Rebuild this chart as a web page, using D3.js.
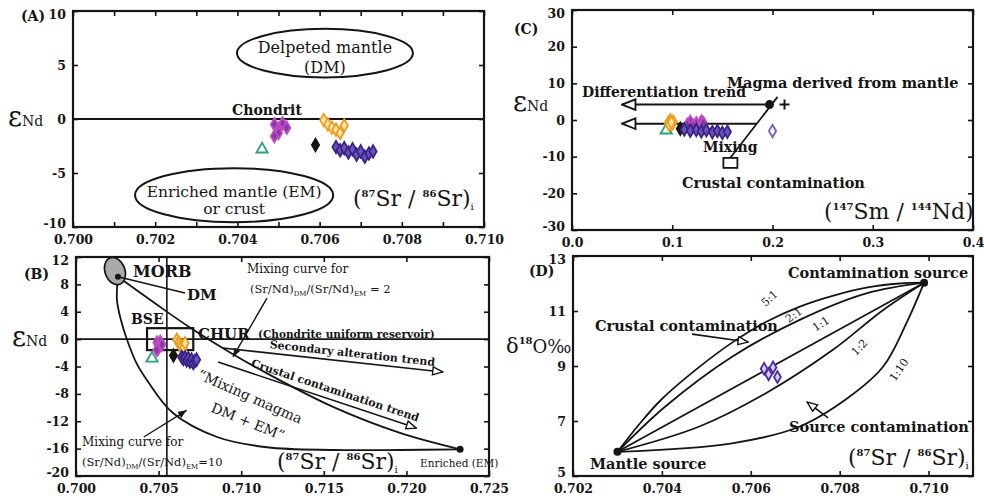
<!DOCTYPE html>
<html>
<head>
<meta charset="utf-8">
<script src="https://cdn.jsdelivr.net/npm/d3@7"></script>
<style>
  body { margin: 0; background: #fff; }
  svg { font-family: "DejaVu Serif", serif; }
</style>
</head>
<body>
<svg width="984" height="500"></svg>
<script>
// samples: [87Sr/86Sr(i), eNd, 147Sm/144Nd]
const greenSamples = [[0.7046, -2.8, 0.094]];
const orangeSamples = [
	[0.7061, -0.1, 0.098], [0.7062, -0.5, 0.101], [0.7063, -0.8, 0.096],
	[0.7064, -1.0, 0.100], [0.7065, -1.3, 0.097], [0.7066, -0.6, 0.099]
];
const magentaSamples = [
	[0.7049, -0.5, 0.118], [0.7050, -0.9, 0.124], [0.7051, -0.4, 0.129],
	[0.7050, -1.3, 0.115], [0.7052, -0.8, 0.131], [0.7049, -1.6, 0.121]
];
const blackSamples = [[0.7059, -2.4, 0.108]];
const purpleSamples = [
	[0.7064, -2.6, 0.112], [0.7065, -2.9, 0.118], [0.7066, -2.7, 0.124],
	[0.7067, -3.1, 0.129], [0.7068, -2.8, 0.134], [0.7069, -3.3, 0.140],
	[0.7070, -3.0, 0.145], [0.7071, -3.5, 0.150], [0.7072, -3.2, 0.155],
	[0.7073, -3.0, 0.200]
];
// panel D samples: [87Sr/86Sr(i), d18O]
const oxygenSamples = [[0.7063, 8.9], [0.7064, 8.7], [0.7065, 8.95], [0.7066, 8.6]];

// tick values
const aXTicks = [0.700, 0.701, 0.702, 0.703, 0.704, 0.705, 0.706, 0.707, 0.708, 0.709, 0.710];
const aYTicks = [-10, -5, 0, 5, 10];
const bXTicks = [0.700, 0.705, 0.710, 0.715, 0.720, 0.725];
const bYTicks = [-20, -16, -12, -8, -4, 0, 4, 8, 12];
const cXTicks = [0.0, 0.1, 0.2, 0.3, 0.4];
const cYTicks = [-30, -20, -10, 0, 10, 20, 30];
const dXTicks = [0.702, 0.704, 0.706, 0.708, 0.710];
const dYTicks = [5, 7, 9, 11, 13];

// panel B mixing curves
const dmPoint = [0.70254, 9.1];
const emPoint = [0.72325, -16.1];
const mixCurve2 = [
	[0.70254, 9.1], [0.70480, 5.2], [0.70708, 1.4], [0.70950, -2.2], [0.71156, -5.0],
	[0.71556, -9.9], [0.71961, -13.7], [0.72325, -16.1]
];
const mixCurve10 = [
	[0.70254, 9.1], [0.70248, 5.7], [0.70272, 2.8], [0.70309, -0.1], [0.70363, -3.35],
	[0.70430, -6.0], [0.70587, -10.8], [0.70854, -14.3], [0.71156, -15.8],
	[0.71556, -16.2], [0.71961, -16.2], [0.72325, -16.1]
];

// panel D mixing curves
const mantleSource = [0.7030, 5.88];
const contamSource = [0.7099, 12.03];
const curve5to1 = [
	[0.7030, 5.88], [0.7035, 6.9], [0.7040, 7.8], [0.70483, 8.95], [0.70558, 9.85],
	[0.70634, 10.6], [0.70709, 11.15], [0.70784, 11.55], [0.70860, 11.85], [0.70935, 12.0], [0.7099, 12.03]
];
const curve2to1 = [
	[0.7030, 5.88], [0.70407, 7.52], [0.70558, 9.34], [0.70709, 10.67], [0.70860, 11.64], [0.7099, 12.03]
];
const curve1to1 = [[0.7030, 5.88], [0.7099, 12.03]];
const curve1to2 = [
	[0.7030, 5.88], [0.70483, 6.79], [0.70634, 8.01], [0.70784, 9.58], [0.70898, 11.04], [0.7099, 12.03]
];
const curve1to10 = [
	[0.7030, 5.88], [0.70558, 6.19], [0.70709, 6.79], [0.70822, 7.88], [0.70898, 8.98],
	[0.70950, 10.55], [0.7099, 12.03]
];

const svg = d3.select('svg');
svg.append('rect').attr('width', 984).attr('height', 500).attr('fill', '#fff');

const ink = '#151515';

//arrow heads
const defs = svg.append('defs');
function openHead(id, w, h) {
	defs.append('marker').attr('id', id)
		.attr('viewBox', '0 0 12 10').attr('refX', 11).attr('refY', 5)
		.attr('markerWidth', w).attr('markerHeight', h)
		.attr('markerUnits', 'userSpaceOnUse').attr('orient', 'auto')
		.append('path').attr('d', 'M1,1L11,5L1,9Z')
		.attr('fill', '#fff').attr('stroke', ink).attr('stroke-width', 1.4);
}
openHead('open', 12, 10);
openHead('openBig', 16, 14);
defs.append('marker').attr('id', 'solid')
	.attr('viewBox', '0 0 10 8').attr('refX', 10).attr('refY', 4)
	.attr('markerWidth', 9).attr('markerHeight', 7)
	.attr('markerUnits', 'userSpaceOnUse').attr('orient', 'auto')
	.append('path').attr('d', 'M0,0L10,4L0,8Z').attr('fill', ink);

// box with inward ticks on all four sides
function frame(g, x, y, o) {
	const [x0, x1] = x.range();
	const [yb, yt] = y.range();
	const [ymin, ymax] = y.domain();
	g.append('g').attr('transform', `translate(0,${yb})`)
		.call(d3.axisBottom(x).tickValues(o.xTicks).tickSize(-5).tickPadding(8).tickFormat(o.xFmt));
	g.append('g').attr('transform', `translate(0,${yt})`)
		.call(d3.axisTop(x).tickValues(o.xTicks).tickSize(-5).tickFormat(''));
	const left = g.append('g').attr('transform', `translate(${x0},0)`)
		.call(d3.axisLeft(y).tickValues(o.yTicks).tickSize(-5).tickPadding(7).tickFormat(d => String(d)));
	g.append('g').attr('transform', `translate(${x1},0)`)
		.call(d3.axisRight(y).tickValues(o.yTicks).tickSize(-5).tickFormat(''));
	g.selectAll('.domain').remove();
	g.selectAll('.tick line').attr('stroke', ink).attr('stroke-width', 1.6);
	g.selectAll('.tick text')
		.attr('font-family', 'DejaVu Serif').attr('font-size', 12.5)
		.attr('font-weight', 'bold').attr('fill', ink);
	// end labels sit a little inside the corners
	left.selectAll('.tick text').attr('y', d => d === ymin ? -4 : d === ymax ? 3 : 0);
	g.append('rect')
		.attr('x', x0).attr('y', yt).attr('width', x1 - x0).attr('height', yb - yt)
		.attr('fill', 'none').attr('stroke', ink).attr('stroke-width', 2.2);
}

function label(g, px, py, txt, size, o = {}) {
	const t = g.append('text').attr('x', px).attr('y', py)
		.attr('font-size', size).attr('fill', ink)
		.attr('font-weight', o.bold ? 'bold' : 'normal')
		.attr('text-anchor', o.anchor || 'start')
		.text(txt);
	if (o.rotate) t.attr('transform', `rotate(${o.rotate},${px},${py})`);
	return t;
}

function epsNd(g, px, py) {
	const t = g.append('text').attr('x', px).attr('y', py).attr('fill', ink);
	t.append('tspan').attr('font-size', 27).text('ε');
	t.append('tspan').attr('font-size', 14).text('Nd');
}

function srLabel(g, px, py) {
	const t = g.append('text').attr('x', px).attr('y', py).attr('fill', ink).attr('font-size', 22);
	t.append('tspan').text('(');
	t.append('tspan').attr('font-size', 10).attr('font-weight', 'bold').attr('dy', -9).text('87');
	t.append('tspan').attr('dy', 9).text('Sr / ');
	t.append('tspan').attr('font-size', 10).attr('font-weight', 'bold').attr('dy', -9).text('86');
	t.append('tspan').attr('dy', 9).text('Sr)');
	t.append('tspan').attr('font-size', 10).attr('dy', 4).text('i');
}

const groups = [
	{ data: greenSamples, type: d3.symbolTriangle, stroke: '#2ea07e', fill: '#fff', size: 55 },
	{ data: orangeSamples, type: d3.symbolDiamond, stroke: '#ef9d1c', fill: '#fde6b0', size: 45 },
	{ data: magentaSamples, type: d3.symbolDiamond, stroke: '#c04cc4', fill: '#8a36a6', size: 45 },
	{ data: blackSamples, type: d3.symbolDiamond, stroke: ink, fill: ink, size: 45 },
	{ data: purpleSamples, type: d3.symbolDiamond, stroke: '#3a2386', fill: '#6b52b8', size: 45 }
];

function plotSamples(g, x, y, xi) {
	groups.forEach(grp => {
		g.selectAll(null).data(grp.data).enter().append('path')
			.attr('d', d3.symbol().type(grp.type).size(grp.size))
			.attr('transform', d => `translate(${x(d[xi])},${y(d[1])})`)
			.attr('fill', d => (xi === 2 && d[2] > 0.18) ? '#fff' : grp.fill)
			.attr('stroke', d => (xi === 2 && d[2] > 0.18) ? '#7a5cc8' : grp.stroke)
			.attr('stroke-width', 1.8);
	});
}

function arrow(g, x, y, from, to, marker, w = 1.6) {
	g.append('line')
		.attr('x1', x(from[0])).attr('y1', y(from[1]))
		.attr('x2', x(to[0])).attr('y2', y(to[1]))
		.attr('stroke', ink).attr('stroke-width', w)
		.attr('marker-end', marker ? `url(#${marker})` : null);
}

// ---------- panel A ----------
{
	const x = d3.scaleLinear().domain([0.700, 0.710]).range([73, 484]);
	const y = d3.scaleLinear().domain([-10, 10]).range([227, 11]);
	const g = svg.append('g');
	frame(g, x, y, {
		xTicks: aXTicks, yTicks: aYTicks,
		xFmt: d => (Math.round(d * 1000) % 2 === 0 ? d.toFixed(3) : '')
	});
	g.append('line').attr('x1', x(0.700)).attr('x2', x(0.710))
		.attr('y1', y(0)).attr('y2', y(0)).attr('stroke', ink).attr('stroke-width', 2);

	g.append('ellipse').attr('cx', x(0.70613)).attr('cy', y(6.1))
		.attr('rx', x(0.70214) - x(0.700)).attr('ry', y(0) - y(2.25))
		.attr('fill', 'none').attr('stroke', ink).attr('stroke-width', 2);
	label(g, x(0.70613), 53, 'Delpeted mantle', 16, { anchor: 'middle' });
	label(g, x(0.70613), 73, '(DM)', 16, { anchor: 'middle' });

	g.append('ellipse').attr('cx', x(0.70392)).attr('cy', y(-7.05))
		.attr('rx', x(0.70241) - x(0.700)).attr('ry', y(0) - y(2.5))
		.attr('fill', 'none').attr('stroke', ink).attr('stroke-width', 2);
	label(g, x(0.70392), 197, 'Enriched mantle (EM)', 15.5, { anchor: 'middle' });
	label(g, x(0.70392), 214, 'or crust', 15.5, { anchor: 'middle' });

	label(g, 267, 115, 'Chondrit', 14, { anchor: 'middle', bold: true });
	plotSamples(g, x, y, 0);
	srLabel(g, 353, 206);
	label(g, 21, 21, '(A)', 14, { bold: true });
	epsNd(g, 8, 126);
}

// ---------- panel B ----------
{
	const x = d3.scaleLinear().domain([0.700, 0.725]).range([76, 489]);
	const y = d3.scaleLinear().domain([-20, 12]).range([476, 257]);
	const g = svg.append('g');
	frame(g, x, y, { xTicks: bXTicks, yTicks: bYTicks, xFmt: d => d.toFixed(3) });
	g.append('line').attr('x1', x(0.700)).attr('x2', x(0.725))
		.attr('y1', y(0)).attr('y2', y(0)).attr('stroke', ink).attr('stroke-width', 1.6);
	g.append('line').attr('x1', x(0.7055)).attr('x2', x(0.7055))
		.attr('y1', y(12)).attr('y2', y(-20)).attr('stroke', ink).attr('stroke-width', 1.6);

	const line = d3.line().x(d => x(d[0])).y(d => y(d[1])).curve(d3.curveCatmullRom.alpha(0.5));
	[mixCurve2, mixCurve10].forEach(c => g.append('path').attr('d', line(c))
		.attr('fill', 'none').attr('stroke', ink).attr('stroke-width', 1.8));

	// MORB field
	g.append('ellipse').attr('cx', x(0.70236)).attr('cy', y(9.95))
		.attr('rx', 10).attr('ry', 14)
		.attr('transform', `rotate(-20,${x(0.70236)},${y(9.95)})`)
		.attr('fill', '#a9a9a9').attr('stroke', ink).attr('stroke-width', 1.6);
	g.append('circle').attr('cx', x(dmPoint[0])).attr('cy', y(dmPoint[1])).attr('r', 3).attr('fill', ink);
	g.append('line').attr('x1', x(dmPoint[0])).attr('y1', y(dmPoint[1]))
		.attr('x2', 185).attr('y2', 293).attr('stroke', ink).attr('stroke-width', 1.6);
	g.append('circle').attr('cx', x(emPoint[0])).attr('cy', y(emPoint[1])).attr('r', 3.5).attr('fill', ink);

	// BSE box
	g.append('rect').attr('x', x(0.7043)).attr('y', y(1.6))
		.attr('width', x(0.7071) - x(0.7043)).attr('height', y(-1.6) - y(1.6))
		.attr('fill', 'none').attr('stroke', ink).attr('stroke-width', 2.2);

	plotSamples(g, x, y, 0);

	arrow(g, x, y, [0.7089, -1.3], [0.7222, -4.8], 'open');
	arrow(g, x, y, [0.7086, -3.35], [0.7206, -13.0], 'open');
	arrow(g, x, y, [0.71156, 6.0], [0.7095, -2.6], 'solid', 1.4);
	arrow(g, x, y, [0.7041, -14.3], [0.7067, -10.4], 'solid', 1.4);

	label(g, 133, 277, 'MORB', 16, { bold: true });
	label(g, 187, 300, 'DM', 15, { bold: true });
	label(g, 131, 324, 'BSE', 14, { bold: true });
	label(g, 198, 339, 'CHUR', 15, { bold: true });
	label(g, 258, 338, '(Chondrite uniform reservoir)', 10.5, { bold: true });

	label(g, 247, 273, 'Mixing curve for', 12);
	const t2 = g.append('text').attr('x', 250).attr('y', 293).attr('font-size', 11.5).attr('fill', ink);
	t2.append('tspan').text('(Sr/Nd)');
	t2.append('tspan').attr('font-size', 7).attr('dy', 3).text('DM');
	t2.append('tspan').attr('dy', -3).text('/(Sr/Nd)');
	t2.append('tspan').attr('font-size', 7).attr('dy', 3).text('EM');
	t2.append('tspan').attr('dy', -3).text(' = 2');

	label(g, 82, 446, 'Mixing curve for', 12);
	const t10 = g.append('text').attr('x', 82).attr('y', 466).attr('font-size', 11.5).attr('fill', ink);
	t10.append('tspan').text('(Sr/Nd)');
	t10.append('tspan').attr('font-size', 7).attr('dy', 3).text('DM');
	t10.append('tspan').attr('dy', -3).text('/(Sr/Nd)');
	t10.append('tspan').attr('font-size', 7).attr('dy', 3).text('EM');
	t10.append('tspan').attr('dy', -3).text('=10');

	label(g, 352, 357, 'Secondary alteration trend', 11, { bold: true, anchor: 'middle', rotate: 6.2 });
	label(g, 334, 394, 'Crustal contamination trend', 11, { bold: true, anchor: 'middle', rotate: 18.3 });
	label(g, 248, 401, '\u201cMixing magma', 14, { anchor: 'middle', rotate: 24 });
	label(g, 246, 426, 'DM + EM\u201d', 14, { anchor: 'middle', rotate: 22 });

	srLabel(g, 277, 469);
	label(g, 420, 467, 'Enriched (EM)', 10.5);
	label(g, 24, 279, '(B)', 14, { bold: true });
	epsNd(g, 12, 346);
}

// ---------- panel C ----------
{
	const x = d3.scaleLinear().domain([0, 0.4]).range([572, 973]);
	const y = d3.scaleLinear().domain([-30, 30]).range([230, 10]);
	const g = svg.append('g');
	frame(g, x, y, { xTicks: cXTicks, yTicks: cYTicks, xFmt: d => d.toFixed(1) });

	arrow(g, x, y, [0.158, -10.3], [0.205, 6.3], null, 1.8);
	arrow(g, x, y, [0.193, 4.2], [0.05, 4.2], 'openBig', 2);
	arrow(g, x, y, [0.184, -1.0], [0.05, -1.0], 'openBig', 2);

	plotSamples(g, x, y, 2);

	g.append('circle').attr('cx', x(0.197)).attr('cy', y(4.2)).attr('r', 4.5).attr('fill', ink);
	g.append('path')
		.attr('d', `M${x(0.212) - 5},${y(4.2)}h10M${x(0.212)},${y(4.2) - 5}v10`)
		.attr('stroke', ink).attr('stroke-width', 2);
	g.append('rect').attr('x', x(0.158) - 7).attr('y', y(-11.7) - 5)
		.attr('width', 14).attr('height', 10)
		.attr('fill', '#fff').attr('stroke', ink).attr('stroke-width', 1.8);

	label(g, 727, 88, 'Magma derived from mantle', 14.5, { bold: true });
	label(g, 582, 97, 'Differentiation trend', 14, { bold: true });
	label(g, 703, 152, 'Mixing', 14, { bold: true });
	label(g, 682, 188, 'Crustal contamination', 14.5, { bold: true });

	const t = g.append('text').attr('x', 824).attr('y', 219).attr('fill', ink).attr('font-size', 22);
	t.append('tspan').text('(');
	t.append('tspan').attr('font-size', 10).attr('font-weight', 'bold').attr('dy', -9).text('147');
	t.append('tspan').attr('dy', 9).text('Sm / ');
	t.append('tspan').attr('font-size', 10).attr('font-weight', 'bold').attr('dy', -9).text('144');
	t.append('tspan').attr('dy', 9).text('Nd)');

	label(g, 514, 34, '(C)', 14, { bold: true });
	epsNd(g, 513, 111);
}

// ---------- panel D ----------
{
	const x = d3.scaleLinear().domain([0.702, 0.711]).range([573, 973]);
	const y = d3.scaleLinear().domain([5, 13]).range([476, 256]);
	const g = svg.append('g');
	frame(g, x, y, { xTicks: dXTicks, yTicks: dYTicks, xFmt: d => d.toFixed(3) });

	const line = d3.line().x(d => x(d[0])).y(d => y(d[1])).curve(d3.curveCatmullRom.alpha(0.5));
	[curve5to1, curve2to1, curve1to1, curve1to2, curve1to10].forEach(c =>
		g.append('path').attr('d', line(c))
			.attr('fill', 'none').attr('stroke', ink).attr('stroke-width', 1.8));

	[mantleSource, contamSource].forEach(p =>
		g.append('circle').attr('cx', x(p[0])).attr('cy', y(p[1])).attr('r', 4).attr('fill', ink));

	g.selectAll(null).data(oxygenSamples).enter().append('path')
		.attr('d', d3.symbol().type(d3.symbolDiamond).size(40))
		.attr('transform', d => `translate(${x(d[0])},${y(d[1])})`)
		.attr('fill', '#d6ccf2').attr('stroke', '#4a2c9c').attr('stroke-width', 1.8);

	arrow(g, x, y, [0.70468, 10.16], [0.70594, 9.87], 'open');
	arrow(g, x, y, [0.70774, 7.11], [0.70727, 7.69], 'open');

	label(g, 772, 301, '5:1', 11, { anchor: 'middle', rotate: -42 });
	label(g, 796, 318, '2:1', 11, { anchor: 'middle', rotate: -36 });
	label(g, 823, 327, '1:1', 11, { anchor: 'middle', rotate: -33 });
	label(g, 862, 350, '1:2', 11, { anchor: 'middle', rotate: -45 });
	label(g, 902, 372, '1:10', 11, { anchor: 'middle', rotate: -55 });

	label(g, 788, 278, 'Contamination source', 14.5, { bold: true });
	label(g, 595, 331, 'Crustal contamination', 14.5, { bold: true });
	label(g, 590, 469, 'Mantle source', 14.5, { bold: true });
	label(g, 789, 432, 'Source contamination', 14.5, { bold: true });
	srLabel(g, 848, 465);

	label(g, 529, 276, '(D)', 14, { bold: true });
	const t = g.append('text').attr('x', 506).attr('y', 353).attr('fill', ink);
	t.append('tspan').attr('font-size', 21).text('δ');
	t.append('tspan').attr('font-size', 10).attr('font-weight', 'bold').attr('dy', -9).text('18');
	t.append('tspan').attr('font-size', 18).attr('dy', 9).text('O‰');
}
</script>
</body>
</html>
